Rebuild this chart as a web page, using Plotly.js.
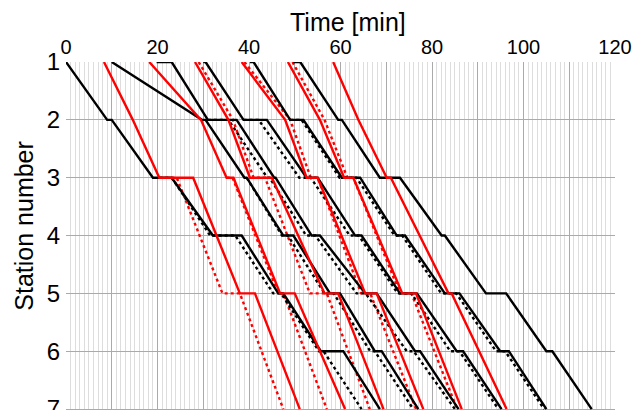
<!DOCTYPE html>
<html><head><meta charset="utf-8">
<script src="https://cdn.plot.ly/plotly-3.0.1.min.js"></script>
<style>html,body{margin:0;padding:0;background:#fff;overflow:hidden;width:634px;height:410px}#chart{width:634px;height:440px}</style>
</head><body><div id="chart"></div>
<script>
// Axis ticks and titles
const stationTicks = [1, 2, 3, 4, 5, 6, 7];
const timeTicks = [0, 10, 20, 30, 40, 50, 60, 70, 80, 90, 100, 110, 120];
const timeTickText = ['0', '', '20', '', '40', '', '60', '', '80', '', '100', '', '120'];
const xTitle = 'Time [min]';
const yTitle = 'Station number';

// Black trains (actual) - time [min], station number
const B0_t = [0, 9, 10, 19, 23.1, 32.1, 38.4, 46.4, 47.5, 55.7, 60.6, 68.6];
const B0_s = [1, 2, 2, 3, 3, 4, 4, 5, 5, 6, 6, 7];
const B1_t = [10, 29.7, 30.5, 39, 39.5, 47.5, 49.7, 57.7, 59.9, 67.5, 69, 77];
const B1_s = [1, 2, 2, 3, 3, 4, 4, 5, 5, 6, 6, 7];
const B2_t = [19.8, 23.1, 31, 37.3, 45.5, 45.8, 53.7, 55.5, 65.4, 67.9, 76.3, 77.4, 85.8];
const B2_s = [1, 1, 2, 2, 3, 3, 4, 4, 5, 5, 6, 6, 7];
const B3_t = [30, 30.5, 38.8, 43.9, 52.6, 55, 63.2, 64.6, 73, 76.7, 85.4, 86.8, 95.2];
const B3_s = [1, 1, 2, 2, 3, 3, 4, 4, 5, 5, 6, 6, 7];
const B4_t = [40.2, 41, 49, 51.9, 60.3, 64.3, 72.3, 74.1, 82.8, 86, 94.9, 96.8, 105];
const B4_s = [1, 1, 2, 2, 3, 3, 4, 4, 5, 5, 6, 6, 7];
const B5_t = [49.7, 51.2, 59.5, 60.3, 68.6, 73, 82.1, 82.8, 91.8, 96.2, 105, 106.3, 114.9];
const B5_s = [1, 1, 2, 2, 3, 3, 4, 4, 5, 5, 6, 6, 7];

// Red trains (actual)
const R0_t = [8.3, 14.6, 20.4, 27.8, 38, 41.3, 51.1];
const R0_s = [1, 2, 3, 3, 5, 5, 7];
const R1_t = [18.2, 29.5, 35.1, 36.6, 46.8, 50, 61];
const R1_s = [1, 2, 3, 3, 5, 5, 7];
const R2_t = [28.2, 35.5, 40.2, 45, 56.5, 59.5, 69.4];
const R2_s = [1, 2, 3, 3, 5, 5, 7];
const R3_t = [38.4, 47.9, 52.6, 55, 65.4, 67.9, 78.1];
const R3_s = [1, 2, 3, 3, 5, 5, 7];
const R4_t = [48.5, 55.5, 60.8, 62.8, 73.5, 76.5, 86.5];
const R4_s = [1, 2, 3, 3, 5, 5, 7];
const R5_t = [58.4, 63.9, 70.1, 71, 83.6, 84.3, 96.3];
const R5_s = [1, 2, 3, 3, 5, 5, 7];

// Black trains (planned, dotted)
const B0p_t = [23.1, 31.5, 37, 45.3, 47, 55.3, 56.3, 64.6];
const B0p_s = [3, 4, 4, 5, 5, 6, 6, 7];
const B1p_t = [39.5, 47.2, 48.5, 56.5, 58.5, 66.5, 67.5, 75.9];
const B1p_s = [3, 4, 4, 5, 5, 6, 6, 7];
const B2p_t = [31, 35.5, 44, 44.5, 52.5, 54.5, 63.5, 65.5, 74.5, 76, 85];
const B2p_s = [2, 2, 3, 3, 4, 4, 5, 5, 6, 6, 7];
const B3p_t = [38.8, 42.1, 51, 53.5, 62, 64, 72.5, 75.5, 84, 86, 94.5];
const B3p_s = [2, 2, 3, 3, 4, 4, 5, 5, 6, 6, 7];
const B4p_t = [49, 51.5, 59.8, 63.5, 71.8, 73.5, 82, 85.3, 94, 96, 104.5];
const B4p_s = [2, 2, 3, 3, 4, 4, 5, 5, 6, 6, 7];

// Red trains (planned, dotted)
const R0p_t = [20.4, 24.2, 34.2, 38, 47.5];
const R0p_s = [3, 3, 5, 5, 7];
const R1p_t = [35.1, 36.4, 46.4, 47.5, 57];
const R1p_s = [3, 3, 5, 5, 7];
const R2p_t = [29, 36.5, 41, 43.5, 53.3, 57, 66.4];
const R2p_s = [1, 2, 3, 3, 5, 5, 7];
const R3p_t = [39, 49, 53.5, 55, 64.5, 66.5, 76.5];
const R3p_s = [1, 2, 3, 3, 5, 5, 7];
const R4p_t = [49.5, 56.5, 61.5, 62.8, 73, 75.5, 85.5];
const R4p_s = [1, 2, 3, 3, 5, 5, 7];

const traces = [];
function addTrain(t, s, color, dash) {
  traces.push({x: t, y: s, type: 'scatter', mode: 'lines',
    line: {color: color, width: 2.4, dash: dash},
    hoverinfo: 'skip', showlegend: false});
}
[[R0p_t,R0p_s],[R1p_t,R1p_s],[R2p_t,R2p_s],[R3p_t,R3p_s],[R4p_t,R4p_s]]
  .forEach(p => addTrain(p[0], p[1], '#ff0000', 'dot'));
[[B0p_t,B0p_s],[B1p_t,B1p_s],[B2p_t,B2p_s],[B3p_t,B3p_s],[B4p_t,B4p_s]]
  .forEach(p => addTrain(p[0], p[1], '#000000', 'dot'));
[[B0_t,B0_s],[B1_t,B1_s],[B2_t,B2_s],[B3_t,B3_s],[B4_t,B4_s],[B5_t,B5_s]]
  .forEach(p => addTrain(p[0], p[1], '#000000', 'solid'));
[[R0_t,R0_s],[R1_t,R1_s],[R2_t,R2_s],[R3_t,R3_s],[R4_t,R4_s],[R5_t,R5_s]]
  .forEach(p => addTrain(p[0], p[1], '#ff0000', 'solid'));

const font = 'Liberation Sans, Arial, sans-serif';
// figure is taller than the window; the window crops it just below station 7 like the reference
const layout = {
  width: 634, height: 440,
  margin: {l: 66, r: 19, t: 62, b: 2, pad: 0},
  paper_bgcolor: '#ffffff', plot_bgcolor: '#ffffff',
  font: {family: font, color: '#000000'},
  xaxis: {
    side: 'top', range: [0, 120], tickmode: 'array',
    tickvals: timeTicks, ticktext: timeTickText,
    showgrid: true, gridcolor: '#aaaaaa', gridwidth: 1,
    minor: {tickmode: 'linear', tick0: 0, dtick: 1, showgrid: true, gridcolor: '#dddddd', gridwidth: 1},
    zeroline: false, showline: false, ticks: '', ticklabelstandoff: 3,
    tickfont: {size: 20, family: font}
  },
  yaxis: {
    range: [7.5, 1], tickmode: 'array', tickvals: stationTicks,
    showgrid: true, gridcolor: '#aaaaaa', gridwidth: 1,
    zeroline: false, showline: false, ticks: '', ticklabelstandoff: 5,
    tickfont: {size: 24, family: font}
  },
  annotations: [
    {text: xTitle, xref: 'paper', yref: 'paper', x: 0.513, y: 1,
     xanchor: 'center', yanchor: 'middle', yshift: 40, showarrow: false,
     font: {size: 25, family: font, color: '#000000'}},
    {text: yTitle, xref: 'paper', yref: 'y', x: 0, y: 3.83,
     xanchor: 'center', yanchor: 'middle', xshift: -42, textangle: -90, showarrow: false,
     font: {size: 25, family: font, color: '#000000'}}
  ]
};
Plotly.newPlot('chart', traces, layout, {staticPlot: true, displayModeBar: false});
</script>
</body></html>
